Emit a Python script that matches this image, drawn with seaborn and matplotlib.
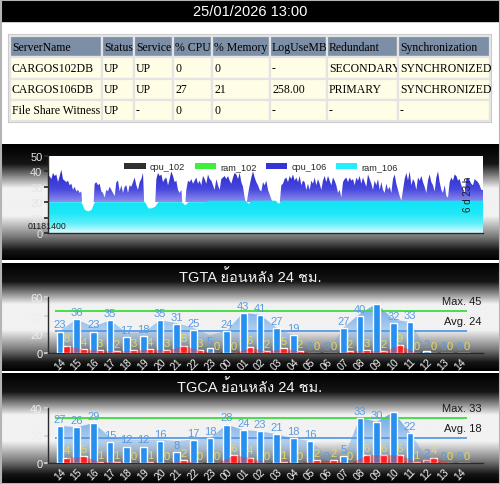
import numpy as np
import pandas as pd
import matplotlib
matplotlib.use("Agg")
import matplotlib.pyplot as plt
import matplotlib.transforms as mtransforms
import seaborn as sns
from matplotlib import font_manager
from matplotlib.ft2font import FT2Font
from matplotlib.colors import LinearSegmentedColormap, to_rgb
from matplotlib.patches import Rectangle, Patch

# ---------------- data ----------------
stamp = "25/01/2026 13:00"

table_cols = ["ServerName", "Status", "Service", "% CPU", "% Memory",
              "LogUseMB", "Redundant", "Synchronization"]
table_rows = [
    ["CARGOS102DB", "UP", "UP", "0", "0", "-", "SECONDARY", "SYNCHRONIZED"],
    ["CARGOS106DB", "UP", "UP", "27", "21", "258.00", "PRIMARY", "SYNCHRONIZED"],
    ["File Share Witness", "UP", "-", "0", "0", "-", "-", "-"],
]

trend_names = ["cpu_102", "ram_102", "cpu_106", "ram_106"]
trend_start = "01181400"
trend_span = "6 d 23 h"

cpu_106 = [
    36, 37, 35, 39, 37, 38, 33, 37, 41, 35, 34, 33, 34, 31, 32, 28, 30, 27, 28, 26,
    27, 12, 12, 12, 12, 12, 12, 12,
    32, 33, 31, 32, 27, 26, 23, 28, 27, 30, 28, 26, 24, 33, 34, 27, 31, 26, 30, 31,
    26, 31, 30, 33, 36, 31, 28, 33, 35, 39,
    12, 12, 12, 12, 12, 12, 12,
    35, 39, 37, 38, 33, 35, 36, 31, 35, 40, 37, 33, 34, 28, 26, 28,
    14, 14,
    28, 34, 33, 35, 32, 34, 36, 32, 34, 31, 37, 35, 32, 38, 35, 34, 31, 28, 35, 31,
    28, 35, 36, 37, 35, 37, 34, 32, 36, 39, 38, 35, 39, 33, 30, 23,
    18,
    25, 31, 36, 40, 36, 33, 31, 28, 27, 33, 31, 34, 28, 25, 22,
    19, 19, 19, 19, 19,
    31, 32, 35, 36, 33, 37, 35, 38, 34, 36, 33, 37, 31, 34, 33, 28, 32, 28, 34, 32,
    36, 31, 35, 32, 28, 34, 37, 33, 37, 34, 31, 36, 34, 31, 26, 28, 23, 33, 35, 36,
    33, 36, 34, 35, 31, 36, 34, 37, 32, 36, 33, 30, 38, 35, 32, 28, 34, 31, 35, 28,
    33, 28, 26, 32, 28, 30, 26, 35, 38, 32, 28, 24, 21, 28, 35, 39, 34, 40, 31, 35,
    33, 28, 36, 34, 37, 33, 30, 26, 34, 38, 33, 31, 27, 36, 40, 33, 28, 26, 31, 24,
    23, 33, 36, 34, 38, 37, 34, 35, 31, 28, 26, 35, 36, 34, 32, 31, 35, 34, 33, 31,
    28, 28,
]
ram_106 = [
    20, 20, 20, 20, 20, 20, 20, 20, 20, 20, 20, 15, 14, 15, 20, 20, 20, 20, 20, 20,
    20, 20, 20, 20, 20, 20, 20, 20, 20, 20, 16, 16, 17, 20, 20, 20, 20, 20, 20, 20,
    20, 18, 20, 20, 20, 20, 20, 20, 21, 21, 21, 21, 21, 21, 21, 21, 21, 21, 21, 21,
    19, 21, 21, 21, 21, 21, 21, 21, 21, 19, 21, 21, 21, 21, 21, 21, 21, 21, 21, 21,
    21, 21, 21, 21, 21, 21, 21, 21, 21, 21, 21, 21, 21, 21, 21, 21, 21, 21, 21, 21,
    21, 21, 21, 21, 21, 21, 21, 21, 21, 21, 21, 21, 21, 21, 21, 21, 21, 21, 21, 21,
    21, 21, 21, 21, 21, 21, 21, 21, 21, 21, 21,
]

hours = ["14", "15", "16", "17", "18", "19", "20", "21", "22", "23", "00", "01",
         "02", "03", "04", "05", "06", "07", "08", "09", "10", "11", "12", "13", "14"]

tgta_title = "TGTA ย้อนหลัง 24 ชม."
tgta_total = [23, 36, 23, 35, 17, 18, 35, 31, 25, 5, 24, 43, 41, 27, 19, 0, 0, 27, 40, 52, 32, 33, 2, 0, 0]
tgta_fail = [8, 4, 3, 2, 3, 4, 3, 8, 3, 0, 0, 6, 2, 5, 2, 0, 0, 2, 3, 2, 9, 0, 0, 0, 0]
tgta_trend = [24, 36, 28, 35, 22, 22, 35, 32, 27, 19, 24, 43, 41, 27, 19, 3, 0, 27, 42, 53, 36, 33, 4, 0, 0]
tgta_max, tgta_avg = 45, 24

tgca_title = "TGCA ย้อนหลัง 24 ชม."
tgca_total = [27, 26, 29, 15, 12, 12, 16, 8, 17, 18, 28, 24, 23, 21, 18, 16, 0, 5, 33, 30, 37, 22, 2, 0, 0]
tgca_fail = [4, 5, 1, 1, 0, 1, 0, 2, 0, 0, 6, 4, 0, 1, 0, 2, 2, 0, 6, 6, 6, 1, 4, 0, 0]
tgca_trend = [27, 26, 29, 19, 17, 17, 17, 16, 17, 18, 28, 24, 23, 21, 18, 16, 6, 3, 33, 30, 37, 22, 4, 0, 0]
tgca_max, tgca_avg = 33, 18


# ---------------- fonts ----------------
def font_with(ch):
    for f in font_manager.fontManager.ttflist:
        try:
            if ord(ch) in FT2Font(f.fname).get_charmap():
                return f.name
        except Exception:
            continue
    return None


sns.set_theme(style="white")
thai = font_with("ย")
families = ["Liberation Sans"] + ([thai] if thai else []) + ["DejaVu Sans"]
plt.rcParams["font.family"] = families

W, H = 500, 485


def rect(x, y, w, h):
    return [x / W, 1 - (y + h) / H, w / W, h / H]


def grad_cmap(name, stops):
    return LinearSegmentedColormap.from_list(name, stops)


def gradient_area(ax, x, y, cmap, lo, hi, z):
    poly = ax.fill_between(x, 0, y, facecolor="none", edgecolor="none")
    img = ax.imshow(np.linspace(0, 1, 256).reshape(-1, 1), cmap=cmap, origin="lower",
                    aspect="auto", extent=(x[0], x[-1], lo, hi), zorder=z)
    img.set_clip_path(poly.get_paths()[0], transform=ax.transData)


fig = plt.figure(figsize=(W / 100, H / 100), dpi=100)
fig.patch.set_facecolor("white")

# background layer (title bar, panel gradients)
bg = fig.add_axes([0, 0, 1, 1])
bg.axis("off")
panel_cmap = grad_cmap("panel", [(0, "#000000"), (0.17, "#151515"), (0.38, "#f2f2f2"),
                                 (0.62, "#f2f2f2"), (0.8, "#7a7a7a"), (0.92, "#151515"),
                                 (1, "#000000")])
grad = np.linspace(0, 1, 256).reshape(-1, 1)
for y0, y1 in [(145, 261), (264, 372), (374, 484)]:
    bg.imshow(grad, cmap=panel_cmap, aspect="auto", extent=(1, 499, y1, y0), origin="upper")
bg.add_patch(Rectangle((1, 1), 498, 21, color="black"))
bg.add_patch(Rectangle((0.5, 0.5), 499, 484, fill=False, ec="#b4b4b4", lw=1.5))
bg.add_patch(Rectangle((9, 36), 482, 87, fill=False, ec="#c8c8c8", lw=1.5))
bg.set_xlim(0, W)
bg.set_ylim(H, 0)
bg.text(250, 12, stamp, color="white", ha="center", va="center", fontsize=10.5)
bg.text(250, 277, tgta_title, color="#f4f4f4", ha="center", va="center", fontsize=10.5)
bg.text(250, 387, tgca_title, color="#f4f4f4", ha="center", va="center", fontsize=10.5)

# ---------------- table ----------------
tax = fig.add_axes(rect(10, 37, 480, 85))
tax.axis("off")
col_px = [92, 32, 39, 39, 58, 57, 71, 92]
tbl = tax.table(cellText=table_rows, colLabels=table_cols, colLoc="left",
                colWidths=[c / sum(col_px) for c in col_px], cellLoc="left", bbox=[0, 0, 1, 1])
tbl.auto_set_font_size(False)
tbl.set_fontsize(8.5)
for (r, c), cell in tbl.get_celld().items():
    cell.set_facecolor("#7c8fa6" if r == 0 else "#fffde6")
    cell.set_edgecolor("#e4e4e4")
    cell.set_linewidth(1.6)
    cell.get_text().set_fontfamily("Liberation Serif")
    cell.get_text().set_color("black")
    cell.PAD = 2.0 / col_px[c]

# ---------------- trend chart ----------------
ax2 = fig.add_axes(rect(48, 157, 435, 77))
ax2.set_facecolor("white")
tc = np.linspace(0, 1, len(cpu_106))
tr = np.linspace(0, 1, len(ram_106))
gradient_area(ax2, tc, cpu_106, grad_cmap("cpu", [(0, "#8e8eee"), (0.35, "#4848de"), (1, "#1e1ec8")]), 20, 44, 1)
gradient_area(ax2, tr, ram_106, grad_cmap("ram", [(0, "#dcfbfe"), (0.3, "#5eeef9"),
                                                   (0.6, "#1ee8f7"), (1, "#10e4f6")]), 0, 21, 2)
ax2.set_xlim(0, 1)
ax2.set_ylim(0, 50)
ax2.set_xticks([])
ax2.set_yticks(range(0, 51, 10))
ax2.tick_params(axis="y", colors="#2a2a2a", labelcolor="#e4e4e4", labelsize=8, length=3, pad=1, left=True)
for side in ["top", "right"]:
    ax2.spines[side].set_visible(False)
for side in ["left", "bottom"]:
    ax2.spines[side].set_color("#2a2a2a")
    ax2.spines[side].set_linewidth(1)
handles = [Patch(facecolor=c, edgecolor="none", label=n)
           for c, n in zip(["#303030", "#3cf03c", "#3535d5", "#22eeff"], trend_names)]
ax2.legend(handles=handles, loc="center", bbox_to_anchor=(0.49, 0.86), ncol=4, frameon=False,
           fontsize=6.6, handlelength=2.3, handleheight=0.7, handletextpad=0.5, columnspacing=1.0)
ax2.text(-0.003, 0.097, trend_start, transform=ax2.transAxes, ha="center", va="center",
         fontsize=6.3, color="#1a1a1a", clip_on=False, zorder=5)
ax2.text(0.9655, 0.52, trend_span, transform=ax2.transAxes, ha="center", va="center",
         rotation=90, fontsize=7, color="#1a1a1a", zorder=5)


# ---------------- hourly charts ----------------
def hourly(box, total, fail, trend, ymax, yticks, max_v, avg_v):
    ax = fig.add_axes(rect(*box))
    ax.set_facecolor("none")
    n = len(total)
    pos = np.arange(n)
    df = pd.DataFrame({"slot": np.concatenate([pos, pos]),
                       "kind": ["total"] * n + ["fail"] * n,
                       "value": list(total) + list(fail)})
    sns.barplot(data=df, x="slot", y="value", hue="kind", hue_order=["total", "fail"],
                palette={"total": "#2590f0", "fail": "#ff1a1a"}, saturation=1, width=0.8,
                gap=0, errorbar=None, legend=False, ax=ax, zorder=3)
    blue, red = ax.containers[0], ax.containers[1]
    ax.bar_label(blue, labels=[str(v) if v <= max_v else "" for v in total], padding=1.5,
                 color="#5a9be2", fontsize=8)
    ax.bar_label(red, labels=[str(v) for v in fail], padding=1.5, color="#e2dc66", fontsize=8)
    rgb = to_rgb("#4a98ea")
    gradient_area(ax, pos - 0.2, trend, grad_cmap("trend", [(0, (*rgb, 0.0)), (0.35, (*rgb, 0.35)),
                                                             (1, (*rgb, 0.9))]), 0, ymax, 1)
    ax.fill_between(pos + 0.2, 0, fail, color="#ff2424", alpha=0.4, lw=0, zorder=4)
    ax.hlines(max_v, -0.5, 24.2, color="#3cdc3c", lw=1.3, zorder=2)
    ax.hlines(avg_v, -0.5, 24.2, color="#4a95e4", lw=1.2, zorder=2)
    tr_ = mtransforms.blended_transform_factory(ax.transAxes, ax.transData)
    for v, lab in [(max_v, "Max. %d" % max_v), (avg_v, "Avg. %d" % avg_v)]:
        ax.annotate(lab, (1.0, v), xycoords=tr_, xytext=(-1, 3.5), textcoords="offset points",
                    ha="right", va="bottom", fontsize=8, color="#1a1a1a")
    ax.set_xlim(-0.92, 25.18)
    ax.set_ylim(0, ymax)
    ax.set_xticks(pos - 0.2)
    ax.set_xticklabels(hours, rotation=45, ha="center")
    ax.set_yticks(yticks)
    ax.set_xlabel("")
    ax.set_ylabel("")
    ax.tick_params(axis="x", colors="#f2f2f2", labelsize=7.5, length=0, pad=2)
    ax.tick_params(axis="y", colors="#d0d0d0", labelcolor="#eeeeee", labelsize=8, length=3, pad=1, left=True)
    for side in ["top", "right"]:
        ax.spines[side].set_visible(False)
    for side in ["left", "bottom"]:
        ax.spines[side].set_color("#2a2a2a")
        ax.spines[side].set_linewidth(1)
    return ax


hourly((48, 298, 435, 56), tgta_total, tgta_fail, tgta_trend, 60, [0, 20, 40, 60], tgta_max, tgta_avg)
hourly((48, 409, 435, 55), tgca_total, tgca_fail, tgca_trend, 40, [0, 20, 40], tgca_max, tgca_avg)

fig.savefig("out.png", dpi=100)
